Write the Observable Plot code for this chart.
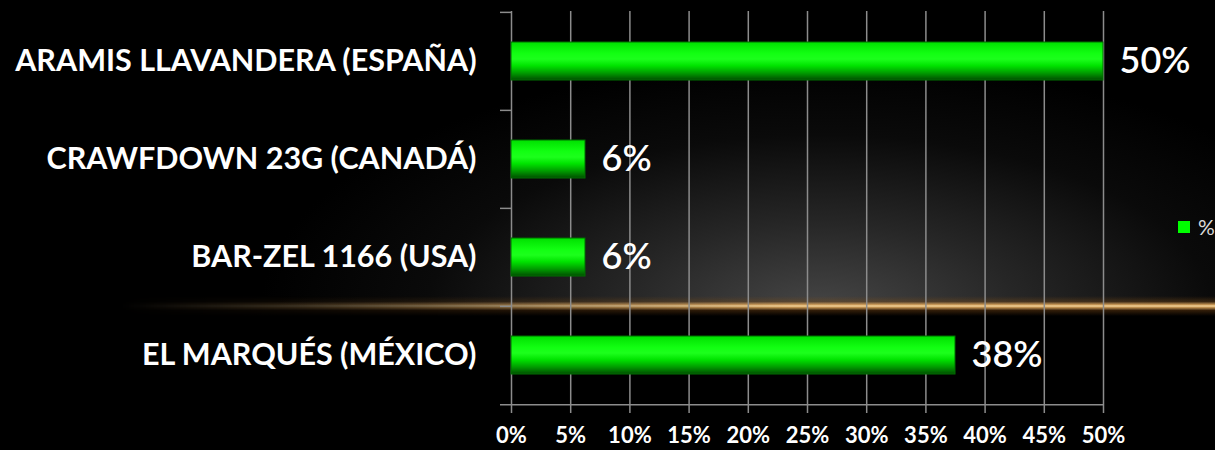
<!DOCTYPE html>
<html><head><meta charset="utf-8">
<script src="https://cdn.jsdelivr.net/npm/d3@7"></script>
<script src="https://cdn.jsdelivr.net/npm/@observablehq/plot@0.6"></script>
<style>
html,body{margin:0;padding:0;background:#000;}
#wrap{position:relative;width:1215px;height:450px;overflow:hidden;background:#000;}
#glow{position:absolute;left:0;top:0;width:1215px;height:306px;
  background:radial-gradient(ellipse 560px 250px at 820px 310px, rgba(70,70,70,1) 0%, rgba(45,45,45,0.85) 35%, rgba(20,20,20,0.5) 70%, rgba(0,0,0,0) 100%);}
#streak{position:absolute;left:0;top:296px;width:1215px;height:20px;
  background:linear-gradient(to bottom, rgba(0,0,0,0) 0%, rgba(120,75,25,0.4) 28%, rgba(225,170,95,0.9) 44%, rgba(245,215,160,1) 50%, rgba(225,170,95,0.9) 56%, rgba(110,65,20,0.45) 72%, rgba(0,0,0,0) 100%);
  -webkit-mask-image:linear-gradient(to right, rgba(0,0,0,0) 10%, rgba(0,0,0,0.25) 25%, rgba(0,0,0,0.7) 45%, #000 65%);
  mask-image:linear-gradient(to right, rgba(0,0,0,0) 10%, rgba(0,0,0,0.25) 25%, rgba(0,0,0,0.7) 45%, #000 65%);}
#chart{position:absolute;left:0;top:0;}
#legend{position:absolute;left:1178px;top:214px;font-family:Lato,sans-serif;font-size:21px;color:#d9d9d9;display:flex;align-items:center;gap:8px;}
#legend .sw{width:12px;height:12px;background:#00ff00;}
</style>
</head><body>
<div id="wrap"><div id="glow"></div><div id="streak"></div><div id="chart"></div>
<div id="legend"><span class="sw"></span><span id="legtext"></span></div></div>
<script>
const categories = ["ARAMIS LLAVANDERA (ESPAÑA)", "CRAWFDOWN 23G (CANADÁ)", "BAR-ZEL 1166 (USA)", "EL MARQUÉS (MÉXICO)"];
const values = [50, 6.25, 6.25, 37.5];
const xTicks = [0, 5, 10, 15, 20, 25, 30, 35, 40, 45, 50];
const seriesName = "%";

const data = categories.map((c, i) => ({cat: c, v: values[i]}));
const grid = "#8c8c8c";
const font = "Lato, sans-serif";

const chart = Plot.plot({
  width: 1215, height: 450,
  marginLeft: 511, marginRight: 112, marginTop: 11, marginBottom: 46,
  style: {background: "transparent", color: "#fff", overflow: "visible", fontFamily: font},
  x: {domain: [0, 50], axis: null},
  y: {domain: categories, padding: 0, axis: null},
  marks: [
    Plot.ruleX(xTicks, {x: d => d, stroke: grid, strokeWidth: 1.5}),
    Plot.ruleY(categories, {y: d => d, dy: -49.125, x1: -0.93, x2: 0, stroke: grid, strokeWidth: 1.5}),
    Plot.ruleY([categories[categories.length - 1]], {y: d => d, dy: 49.125, x1: -0.93, x2: 50, stroke: grid, strokeWidth: 1.5}),
    Plot.axisX(xTicks, {tickSize: 9, tickPadding: 14, stroke: grid, strokeWidth: 1.5, fill: "#fff",
      fontSize: 22, fontWeight: 700, label: null, tickFormat: d => d + "%"}),
    Plot.barX(data, {x: "v", y: "cat", fill: "url(#barGrad)", stroke: "#006e00", strokeWidth: 1, insetTop: 30, insetBottom: 30}),
    Plot.text(data, {x: "v", y: "cat", text: d => Math.round(d.v) + "%", dx: 16, textAnchor: "start",
      fill: "#fff", fontSize: 36, fontWeight: 600, fontFamily: font}),
    Plot.text(categories, {y: d => d, text: d => d, frameAnchor: "left", dx: -35, textAnchor: "end",
      fill: "#fff", fontSize: 30.5, fontWeight: 700, fontFamily: font})
  ]
});

const svg = d3.select(chart);
const defs = svg.insert("defs", ":first-child");
const g = defs.append("linearGradient").attr("id", "barGrad").attr("x1", 0).attr("y1", 0).attr("x2", 0).attr("y2", 1);
[[0, "#00e000"], [0.3, "#12ff12"], [0.45, "#1cff1c"], [0.62, "#00e400"], [0.82, "#009a00"], [1, "#004e00"]]
  .forEach(([o, c]) => g.append("stop").attr("offset", o).attr("stop-color", c));

document.getElementById("chart").appendChild(chart);
document.getElementById("legtext").textContent = seriesName;
</script>
</body></html>
